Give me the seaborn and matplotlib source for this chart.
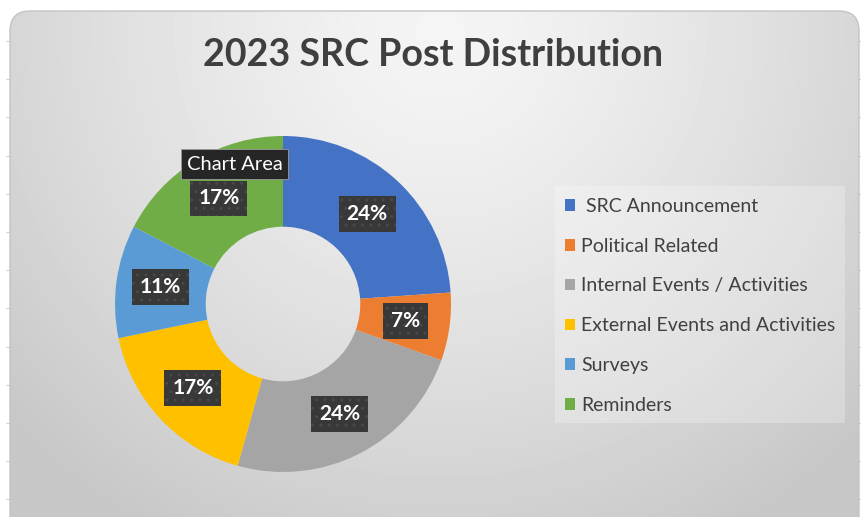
import numpy as np
import matplotlib
matplotlib.use('Agg')
import matplotlib.pyplot as plt
import seaborn as sns
from matplotlib.patches import FancyBboxPatch, Rectangle, Patch

sns.set_theme(style='white')
plt.rcParams['font.family'] = ['Lato', 'DejaVu Sans']
plt.rcParams['hatch.linewidth'] = 0.9

# data
categories = [' SRC Announcement', 'Political Related', 'Internal Events / Activities',
              'External Events and Activities', 'Surveys', 'Reminders']
post_counts = [11, 3, 11, 8, 5, 8]
colors = ['#4472C4', '#ED7D31', '#A5A5A5', '#FFC000', '#5B9BD5', '#70AD47']
title = '2023 SRC Post Distribution'

W, H = 862, 517
fig = plt.figure(figsize=(W / 100, H / 100), dpi=100)
fig.patch.set_facecolor('white')

# background: radial gradient inside a rounded box
bg = fig.add_axes([0, 0, 1, 1])
bg.set_xlim(0, W)
bg.set_ylim(H, 0)
bg.axis('off')
yy, xx = np.mgrid[0:H, 0:W]
d = np.sqrt((xx - 440) ** 2 + (yy - 30) ** 2) / 580
d = np.clip(d, 0, 1) ** 1.3
c0, c1 = 0.96, 0.78
grad = c0 + (c1 - c0) * d
img = bg.imshow(grad, cmap='gray', vmin=0, vmax=1, extent=(0, W, H, 0), zorder=1)
box = FancyBboxPatch((10, 11), 849, 530, boxstyle='round,pad=0,rounding_size=20',
                     facecolor='none', edgecolor='#c4c4c4', linewidth=1.0, zorder=2)
bg.add_patch(box)
img.set_clip_path(box)

# spreadsheet grid ticks outside the chart
for k in range(14):
    ty = 41 + 38.2 * k
    bg.plot([6, 10], [ty, ty], color='#d4d4d4', lw=0.8, zorder=0)
    bg.plot([859, 862], [ty, ty], color='#d4d4d4', lw=0.8, zorder=0)

# title
bg.text(433, 55, title, ha='center', va='center', fontsize=27.1, fontweight='bold',
        color='#3f3f3f', zorder=3)

# legend background box
bg.add_patch(Rectangle((555, 186), 290, 237, facecolor='white', alpha=0.25,
                       edgecolor='none', zorder=2))

# donut
cx, cy, r = 283, 304, 168
ax = fig.add_axes([(cx - r) / W, (H - cy - r) / H, 2 * r / W, 2 * r / H])
ax.set_facecolor('none')
wedges, texts, autotexts = ax.pie(
    post_counts, colors=colors, startangle=90, counterclock=False,
    wedgeprops=dict(width=0.54, edgecolor='none'),
    autopct=lambda p: f'{p:.0f}%', pctdistance=0.735,
    textprops=dict(color='white', fontsize=15, fontweight='bold'))
ax.set_xlim(-1, 1)
ax.set_ylim(-1, 1)
ax.set_aspect('equal')
for t in autotexts:
    t.set_bbox(dict(boxstyle='square,pad=0.38', facecolor='#383838',
                    edgecolor='#4a4a4a', hatch='..', linewidth=0))

# "Chart Area" tooltip
fig.text(234.5 / W, 1 - 164 / H, 'Chart Area', ha='center', va='center', fontsize=14.5,
         color='white', zorder=10,
         bbox=dict(boxstyle='square,pad=0.3', facecolor='#262626',
                   edgecolor='#9a9a9a', linewidth=0.6))

# legend
handles = [Patch(facecolor=c, edgecolor='none') for c in colors]
leg = fig.legend(handles, categories, loc='upper left',
                 bbox_to_anchor=(565 / W, 1 - 198 / H), frameon=False,
                 fontsize=14, labelspacing=1.17, handlelength=0.52, handleheight=0.52,
                 handletextpad=0.3, borderpad=0, borderaxespad=0)
for t in leg.get_texts():
    t.set_color('#404040')

fig.savefig('out.png', dpi=100)
